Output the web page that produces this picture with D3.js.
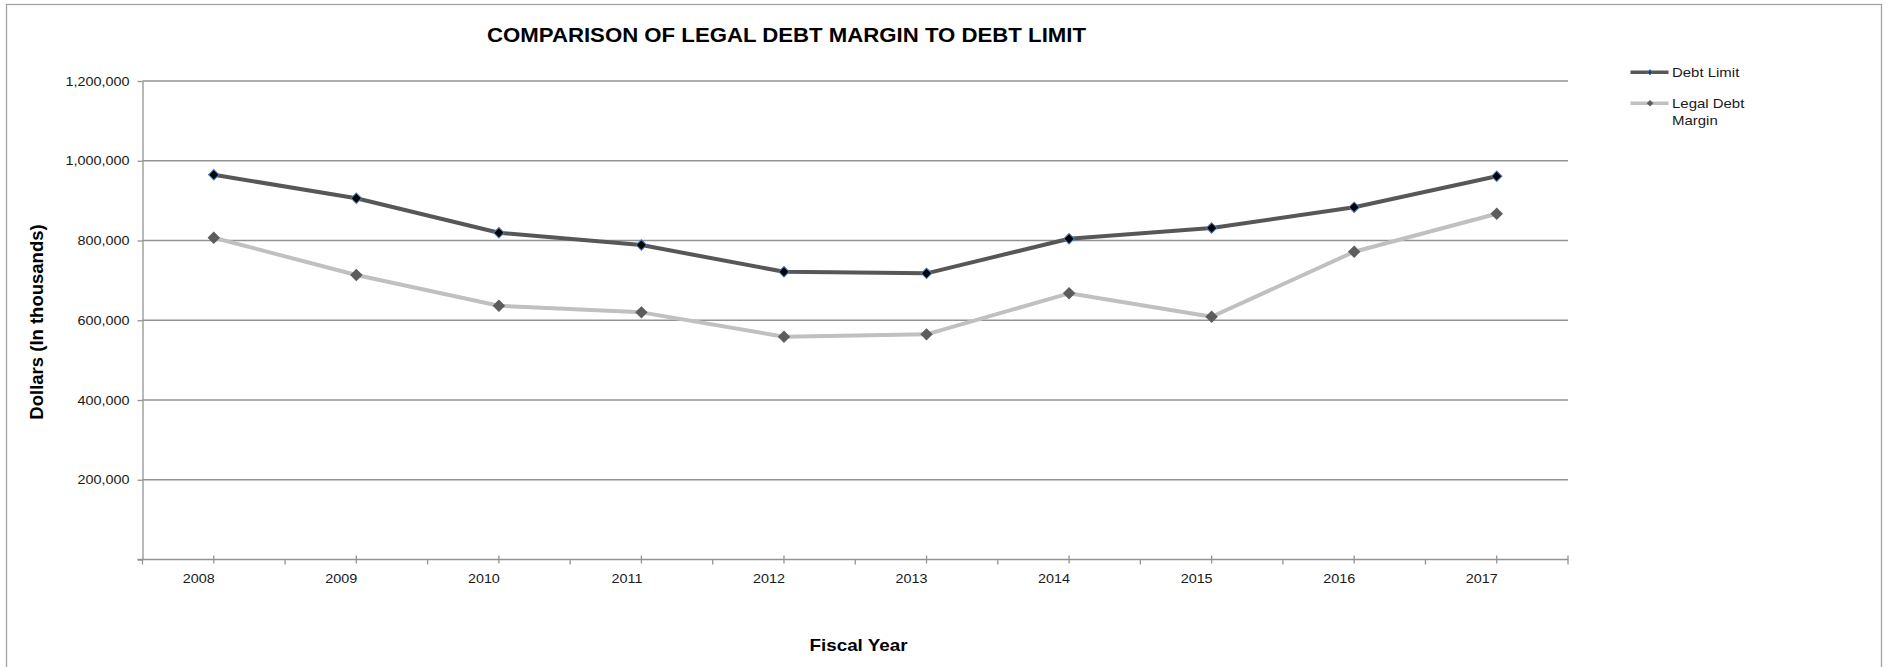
<!DOCTYPE html>
<html>
<head>
<meta charset="utf-8">
<script src="https://cdn.jsdelivr.net/npm/d3@7"></script>
<style>
  html, body { margin: 0; padding: 0; background: #fff; }
  svg { display: block; font-family: "Liberation Sans", Arial, sans-serif; }
</style>
</head>
<body>
<svg id="chart" width="1892" height="667"></svg>
<script>
// Fiscal years on the category axis
const years = ["2008", "2009", "2010", "2011", "2012", "2013", "2014", "2015", "2016", "2017"];
// Values in thousands of dollars
const debtLimit = [965000, 905800, 819500, 788600, 721700, 717600, 804400, 831300, 883200, 961000];
const legalDebtMargin = [807000, 713400, 636400, 619800, 558600, 564600, 667500, 608800, 771800, 867100];
// Value axis ticks
const yTicks = [0, 200000, 400000, 600000, 800000, 1000000, 1200000];

const seriesNames = ["Debt Limit", "Legal Debt Margin"];
const chartTitle = "COMPARISON OF LEGAL DEBT MARGIN TO DEBT LIMIT";
const xTitle = "Fiscal Year";
const yTitle = "Dollars (In thousands)";

const svg = d3.select("#chart");
const plot = { left: 142.5, right: 1568, top: 81, bottom: 559.5 };
const axisColor = "#939393";
const textStretch = 1.15; // widen small labels horizontally

function stretch(sel, factor) {
  sel.each(function () {
    const w = this.getComputedTextLength();
    d3.select(this).attr("textLength", w * factor).attr("lengthAdjust", "spacingAndGlyphs");
  });
}

// outer frame
svg.append("rect")
  .attr("x", 6.5).attr("y", 4.5)
  .attr("width", 1875).attr("height", 700)
  .attr("fill", "#fff").attr("stroke", "#a3a3a3").attr("stroke-width", 1.3);

const x = d3.scaleBand().domain(years).range([plot.left, plot.right]).padding(0);
const cx = d => x(d) + x.bandwidth() / 2;
const y = d3.scaleLinear().domain([0, 1200000]).range([plot.bottom, plot.top]);

// horizontal gridlines
svg.append("g").selectAll("line")
  .data(yTicks.filter(v => v > 0))
  .join("line")
  .attr("x1", plot.left).attr("x2", plot.right)
  .attr("y1", d => y(d)).attr("y2", d => y(d))
  .attr("stroke", axisColor).attr("stroke-width", 1.3);

// value axis
const yAxis = svg.append("g")
  .attr("transform", `translate(${plot.left},0)`)
  .call(d3.axisLeft(y).tickValues(yTicks).tickSize(5).tickSizeOuter(0).tickPadding(8)
    .tickFormat(d => d === 0 ? "" : d3.format(",")(d)));
yAxis.select(".domain").attr("stroke", axisColor).attr("stroke-width", 1.3);
yAxis.selectAll(".tick line").attr("stroke", axisColor).attr("stroke-width", 1.3);
yAxis.selectAll(".tick text")
  .attr("font-size", 12.5).attr("fill", "#1a1a1a")
  .attr("font-family", "Liberation Sans, Arial, sans-serif")
  .call(stretch, textStretch);

// category axis
const xAxis = svg.append("g")
  .attr("transform", `translate(0,${plot.bottom})`)
  .call(d3.axisBottom(x).tickSize(4).tickSizeOuter(0).tickPadding(0));
xAxis.select(".domain").remove();
xAxis.append("line")
  .attr("x1", plot.left - 5).attr("x2", plot.right)
  .attr("stroke", axisColor).attr("stroke-width", 1.3);
xAxis.selectAll(".tick line")
  .attr("y1", -4).attr("y2", 4)
  .attr("stroke", axisColor).attr("stroke-width", 1.3);
xAxis.selectAll(".tick text")
  .attr("font-size", 12.5).attr("fill", "#1a1a1a")
  .attr("font-family", "Liberation Sans, Arial, sans-serif")
  .attr("text-anchor", "end").attr("x", 1).attr("y", 23.5).attr("dy", null)
  .call(stretch, textStretch);
// boundary ticks between categories
xAxis.append("g").selectAll("line")
  .data(years.map(d => x(d)).concat([plot.right]))
  .join("line")
  .attr("x1", d => d).attr("x2", d => d)
  .attr("y1", (d, i) => i === years.length ? -4 : 0).attr("y2", 5)
  .attr("stroke", axisColor).attr("stroke-width", 1.3);

// series lines
const line = d3.line().x((d, i) => cx(years[i])).y(d => y(d));
svg.append("path").datum(legalDebtMargin)
  .attr("d", line).attr("fill", "none")
  .attr("stroke", "#c0c0c0").attr("stroke-width", 4).attr("stroke-linejoin", "round");
svg.append("path").datum(debtLimit)
  .attr("d", line).attr("fill", "none")
  .attr("stroke", "#575757").attr("stroke-width", 4).attr("stroke-linejoin", "round");

// diamond markers
const diamond = side => d3.symbol(d3.symbolSquare, side * side)();
svg.append("g").selectAll("path")
  .data(legalDebtMargin)
  .join("path")
  .attr("d", diamond(8.8))
  .attr("transform", (d, i) => `translate(${cx(years[i])},${y(d)}) rotate(45)`)
  .attr("fill", "#5c5c5c");
svg.append("g").selectAll("path")
  .data(debtLimit)
  .join("path")
  .attr("d", diamond(7.4))
  .attr("transform", (d, i) => `translate(${cx(years[i])},${y(d)}) rotate(45)`)
  .attr("fill", "#000").attr("stroke", "#4a7fc1").attr("stroke-width", 1);

// legend
const legend = svg.append("g");
const legendRows = [
  { name: seriesNames[0], lines: ["Debt Limit"], y: 72.3, color: "#575757", mark: "#1d3f73", markStroke: "#4a7fc1", size: 3.8 },
  { name: seriesNames[1], lines: ["Legal Debt", "Margin"], y: 103.3, color: "#c0c0c0", mark: "#5c5c5c", markStroke: "none", size: 4.6 }
];
legendRows.forEach(r => {
  legend.append("line")
    .attr("x1", 1630.5).attr("x2", 1668.5)
    .attr("y1", r.y).attr("y2", r.y)
    .attr("stroke", r.color).attr("stroke-width", 3.6);
  legend.append("path")
    .attr("d", diamond(r.size))
    .attr("transform", `translate(1650,${r.y}) rotate(45)`)
    .attr("fill", r.mark).attr("stroke", r.markStroke).attr("stroke-width", 0.8);
  r.lines.forEach((t, j) => {
    legend.append("text")
      .attr("x", 1672).attr("y", r.y + j * 17.4).attr("dy", "0.36em")
      .attr("font-size", 13).attr("fill", "#1a1a1a")
      .text(t)
      .call(stretch, textStretch);
  });
});

// chart title
svg.append("text")
  .attr("x", 487).attr("y", 41.7)
  .attr("font-size", 20).attr("font-weight", "bold").attr("fill", "#000")
  .attr("textLength", 599).attr("lengthAdjust", "spacingAndGlyphs")
  .text(chartTitle);

// axis titles
svg.append("text")
  .attr("transform", "translate(43,322) rotate(-90)")
  .attr("text-anchor", "middle")
  .attr("font-size", 18.5).attr("font-weight", "bold").attr("fill", "#000")
  .text(yTitle);
svg.append("text")
  .attr("x", 858.5).attr("y", 650.5)
  .attr("text-anchor", "middle")
  .attr("font-size", 17).attr("font-weight", "bold").attr("fill", "#000")
  .attr("textLength", 98).attr("lengthAdjust", "spacingAndGlyphs")
  .text(xTitle);
</script>
</body>
</html>
